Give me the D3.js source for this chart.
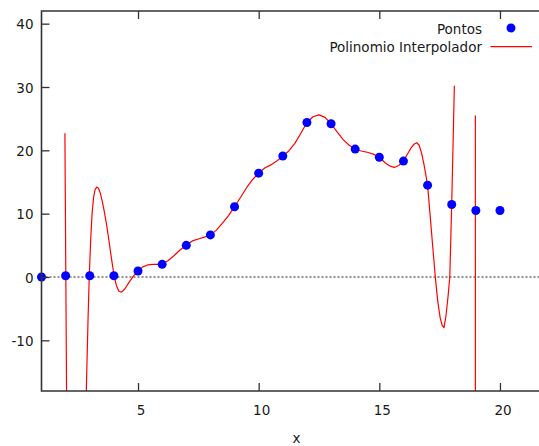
<!DOCTYPE html>
<html>
<head>
<meta charset="utf-8">
<script src="https://cdn.jsdelivr.net/npm/d3@7"></script>
<style>
  html, body { margin: 0; padding: 0; background: #fff; }
  svg { display: block; }
  text { font-family: "DejaVu Sans", Verdana, sans-serif; font-size: 13.5px; fill: #1a1a1a; }
</style>
</head>
<body>
<svg id="chart" width="539" height="446"></svg>
<script>
// Measured points
const pontosX = [1, 2, 3, 4, 5, 6, 7, 8, 9, 10, 11, 12, 13, 14, 15, 16, 17, 18, 19, 20];
const pontosY = [0, 0.2, 0.2, 0.2, 0.95, 2.0, 5.0, 6.65, 11.1, 16.4, 19.1, 24.4, 24.2, 20.2, 18.9, 18.3, 14.5, 11.45, 10.5, 10.5];

// Interpolating polynomial as sampled (null = break where the curve leaves the range)
const curvaX = [1.97, 2.04, null,
  2.85, 2.93, 2.98, 3.04, 3.1, 3.16, 3.22, 3.29, 3.36, 3.44, 3.52, 3.6, 3.7, 3.8, 3.9, 4.0, 4.1, 4.2, 4.32, 4.45, 4.6, 4.8,
  5.0, 5.2, 5.4, 5.6, 5.8, 6.0, 6.25, 6.5, 6.75, 7.0, 7.25, 7.5, 7.75, 8.0, 8.25, 8.5, 8.75,
  9.0, 9.25, 9.5, 9.75, 10.0, 10.25, 10.5, 10.75, 11.0, 11.25, 11.5, 11.75, 12.0, 12.25, 12.5, 12.75,
  13.0, 13.25, 13.5, 13.75, 14.0, 14.25, 14.5, 14.75, 15.0, 15.25, 15.45, 15.62, 15.8, 16.0, 16.15,
  16.3, 16.45, 16.55, 16.65, 16.75, 16.85, 17.0, 17.1, 17.2, 17.32, 17.42, 17.52, 17.6, 17.68, 17.76, 17.85, 17.92, 18.0, 18.11, null,
  18.98, 18.98];
const curvaY = [22.7, -19, null,
  -19, -6.5, 0.2, 6.0, 10.2, 12.6, 13.8, 14.2, 14.0, 13.2, 11.9, 10.4, 8.2, 5.6, 2.9, 0.4, -1.3, -2.2, -2.4, -1.9, -1.0, 0.1,
  1.0, 1.6, 1.9, 2.0, 2.0, 2.0, 2.6, 3.4, 4.3, 5.0, 5.7, 6.0, 6.3, 6.65, 7.4, 8.5, 9.7,
  11.1, 12.6, 14.1, 15.4, 16.4, 17.2, 17.7, 18.3, 19.1, 19.9, 21.1, 22.7, 24.4, 25.3, 25.6, 25.2,
  24.2, 22.9, 21.7, 20.8, 20.2, 19.9, 19.7, 19.4, 18.9, 18.0, 17.5, 17.3, 17.6, 18.3, 19.3,
  20.3, 21.0, 21.2, 20.8, 19.6, 17.8, 14.5, 10.0, 5.4, 0, -3.8, -6.4, -7.6, -8.0, -6.2, -3.0, 0, 11.45, 30.2, null,
  25.5, -19];

const xTicks = [5, 10, 15, 20];
const yTicks = [40, 30, 20, 10, 0, -10];
const legenda = ["Pontos", "Polinomio Interpolador"];
const xTitulo = "x";

const svg = d3.select("#chart");
const plotLeft = 41.5, plotTop = 11, plotBottom = 391;

const x = d3.scaleLinear().domain([1, 22]).range([plotLeft, plotLeft + 21 * 24.13]);
const y = d3.scaleLinear().domain([-18, 42]).range([plotBottom, plotTop]);
const plotRight = x(22);

svg.append("defs").append("clipPath").attr("id", "plotclip")
  .append("rect").attr("x", plotLeft).attr("y", plotTop)
  .attr("width", plotRight - plotLeft).attr("height", plotBottom - plotTop);

// zero axis (dotted)
svg.append("line")
  .attr("x1", plotLeft).attr("x2", plotRight)
  .attr("y1", y(0)).attr("y2", y(0))
  .attr("stroke", "#222").attr("stroke-width", 1)
  .attr("stroke-dasharray", "2,2");

// curve
const curvePts = curvaX.map((v, i) => [v, curvaY[i]]);
const line = d3.line()
  .defined(d => d[0] !== null && d[1] !== null)
  .x(d => x(d[0])).y(d => y(d[1]))
  .curve(d3.curveLinear);

svg.append("path")
  .datum(curvePts)
  .attr("clip-path", "url(#plotclip)")
  .attr("fill", "none")
  .attr("stroke", "#ff0000")
  .attr("stroke-width", 1.2)
  .attr("stroke-linejoin", "round")
  .attr("d", line);

// points
svg.append("g").selectAll("circle")
  .data(pontosX.map((v, i) => [v, pontosY[i]]))
  .join("circle")
  .attr("cx", d => x(d[0])).attr("cy", d => y(d[1]))
  .attr("r", 4.5).attr("fill", "#0000ff");

// axes with inward ticks; plain hyphen for negative labels
const fmt = d => String(d);
const axisColor = "#333";
const gy = svg.append("g").attr("transform", `translate(${plotLeft},0)`)
  .call(d3.axisLeft(y).tickValues(yTicks).tickFormat(fmt).tickSizeInner(-8).tickSizeOuter(0).tickPadding(8));
const gx = svg.append("g").attr("transform", `translate(0,${plotBottom})`)
  .call(d3.axisBottom(x).tickValues(xTicks).tickFormat(fmt).tickSizeInner(-8).tickSizeOuter(0).tickPadding(14.5));
const gt = svg.append("g").attr("transform", `translate(0,${plotTop})`)
  .call(d3.axisTop(x).tickValues(xTicks).tickSizeInner(-8).tickSizeOuter(0).tickFormat(""));

[gy, gx, gt].forEach(g => {
  g.select(".domain").remove();
  g.selectAll(".tick line").attr("stroke", axisColor).attr("stroke-width", 1.3);
  g.selectAll(".tick text").attr("font-family", null).attr("font-size", null).attr("fill", "#1a1a1a");
});
gy.selectAll(".tick text").attr("dy", "0.38em");
gx.selectAll(".tick text").attr("dx", 2.5);

// frame: left, bottom, top
svg.append("path")
  .attr("d", `M${plotRight},${plotTop}H${plotLeft}V${plotBottom}H${plotRight}`)
  .attr("fill", "none").attr("stroke", axisColor).attr("stroke-width", 1.6);

// x axis title
svg.append("text").attr("x", 296.5).attr("y", 443).attr("text-anchor", "middle").text(xTitulo);

// legend
const lg = svg.append("g");
lg.append("text").attr("x", 482).attr("y", 33.5).attr("text-anchor", "end").text(legenda[0]);
lg.append("circle").attr("cx", 511).attr("cy", 28).attr("r", 4.5).attr("fill", "#0000ff");
lg.append("text").attr("x", 482).attr("y", 51.8).attr("text-anchor", "end").text(legenda[1]);
lg.append("line").attr("x1", 490.5).attr("x2", 532).attr("y1", 46.7).attr("y2", 46.7)
  .attr("stroke", "#ff0000").attr("stroke-width", 1.2);
</script>
</body>
</html>
